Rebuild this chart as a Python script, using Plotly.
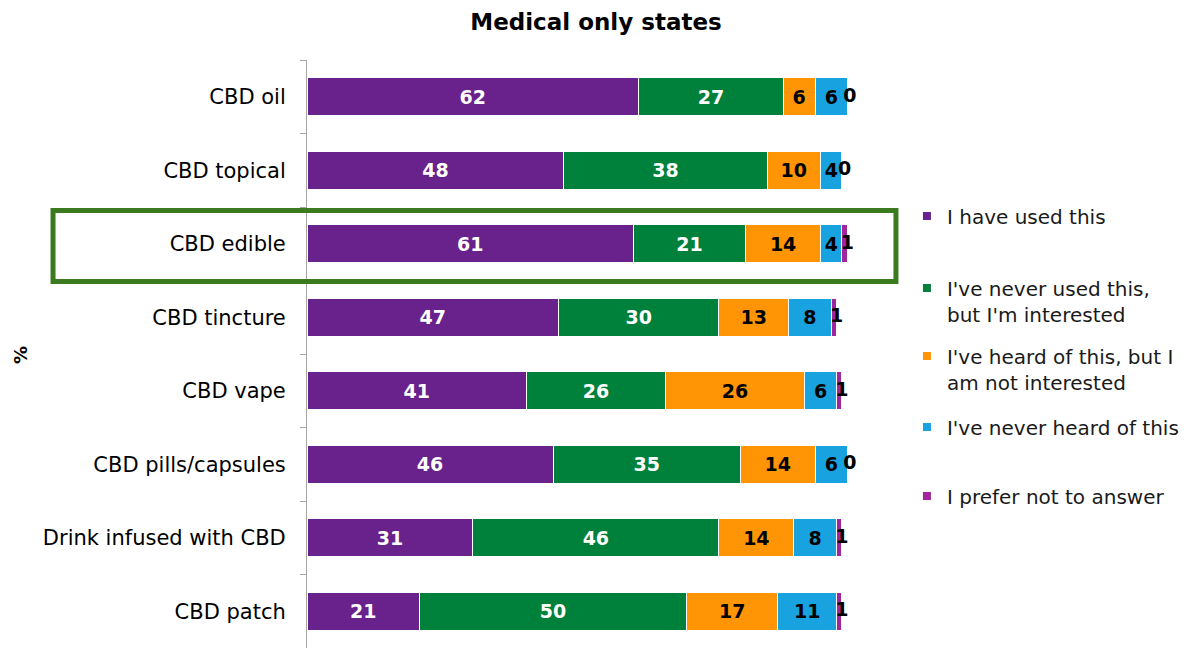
import plotly.graph_objects as go

categories = ["CBD oil", "CBD topical", "CBD edible", "CBD tincture", "CBD vape",
              "CBD pills/capsules", "Drink infused with CBD", "CBD patch"]
used = [62, 48, 61, 47, 41, 46, 31, 21]
never_used_interested = [27, 38, 21, 30, 26, 35, 46, 50]
heard_not_interested = [6, 10, 14, 13, 26, 14, 14, 17]
never_heard = [6, 4, 4, 8, 6, 6, 8, 11]
prefer_not = [0, 0, 1, 1, 1, 0, 1, 1]

series_names = ["I have used this", "I've never used this,<br>but I'm interested",
                "I've heard of this, but I<br>am not interested", "I've never heard of this",
                "I prefer not to answer"]
series_values = [used, never_used_interested, heard_not_interested, never_heard, prefer_not]
colors = ["#69218C", "#00813B", "#FF9505", "#18A2DF", "#A0279B"]
text_colors = ["white", "white", "black", "black", "black"]

FONT = "DejaVu Sans"

# page has an 8px body margin: work in screen pixels and convert
OFF = 8
W, H = 1189 - OFF, 648 - OFF
L = 307 - OFF
T = 60 - OFF
B = 0
X_MAX = 103
PX_PER_UNIT = 5.35  # 100 -> x=842
PW = X_MAX * PX_PER_UNIT
R = W - L - PW
PH = H - T - B
LABEL_NUDGE = 0.5  # small rightward nudge (axis units) for the last-segment labels


def px_x(p):
    return (p - OFF - L) / PW


def px_y(p):
    return (H - B - (p - OFF)) / PH


fig = go.Figure()

for i, (name, vals) in enumerate(zip(series_names, series_values)):
    fig.add_trace(go.Bar(
        y=categories, x=vals, orientation="h", name=name,
        marker=dict(color=colors[i], line=dict(color="white", width=1)),
        text=vals if i < 4 else None,
        texttemplate="%{x}" if i < 4 else None,
        textposition="inside" if i < 4 else "none",
        insidetextanchor="middle",
        textangle=0,
        constraintext="none",
        textfont=dict(family=FONT, size=19, color=text_colors[i], weight="bold"),
        showlegend=False,
        hoverinfo="skip",
    ))

# labels for the last (tiny) segment, placed at the segment centre
bases = [sum(s[k] for s in series_values[:4]) for k in range(len(categories))]
fig.add_trace(go.Scatter(
    y=categories, x=[b + v / 2 + LABEL_NUDGE for b, v in zip(bases, prefer_not)],
    mode="text", text=[str(v) for v in prefer_not], textposition="middle center",
    textfont=dict(family=FONT, size=19, color="black", weight="bold"),
    cliponaxis=False, showlegend=False, hoverinfo="skip",
))

# legend entries (one legend each, to reproduce the spacing)
legend_centres = [216, 301, 369, 427, 496]
for i, name in enumerate(series_names):
    key = "legend" if i == 0 else f"legend{i + 1}"
    fig.add_trace(go.Scatter(
        x=[None], y=[None], mode="markers", name=name,
        marker=dict(symbol="square", size=8, color=colors[i]),
        legend=key, showlegend=True, hoverinfo="skip",
    ))

legend_common = dict(
    xanchor="left", yanchor="middle", valign="top",
    font=dict(family=FONT, size=20, color="#1a1a1a"),
    bgcolor="rgba(0,0,0,0)", borderwidth=0, itemwidth=30,
    tracegroupgap=0,
)
legend_layout = {}
for i in range(5):
    key = "legend" if i == 0 else f"legend{i + 1}"
    legend_layout[key] = dict(legend_common, x=px_x(907), y=px_y(legend_centres[i]))

fig.update_layout(
    width=W, height=H,
    margin=dict(l=L, r=R, t=T, b=B, pad=0, autoexpand=False),
    paper_bgcolor="white", plot_bgcolor="white",
    barmode="stack", bargap=0.48,
    title=dict(text="<b>Medical only states</b>", x=(596 - OFF) / W, xanchor="center",
               y=1 - (22 - OFF) / H, yanchor="middle",
               font=dict(family=FONT, size=23, color="black")),
    xaxis=dict(range=[0, X_MAX], visible=False, fixedrange=True, automargin=False),
    yaxis=dict(autorange="reversed", showline=True, linecolor="#A6A6A6", linewidth=1,
               ticks="outside", ticklen=6, tickcolor="#A6A6A6", tickson="boundaries",
               ticklabelstandoff=16, automargin=False,
               tickfont=dict(family=FONT, size=21, color="black"),
               showgrid=False, zeroline=False, fixedrange=True),
    shapes=[dict(type="rect", xref="paper", yref="paper",
                 x0=px_x(53), x1=px_x(896), y0=px_y(281.5), y1=px_y(210.5),
                 line=dict(color="#3B7A1F", width=5), fillcolor="rgba(0,0,0,0)",
                 layer="above")],
    annotations=[dict(text="<b>%</b>", xref="paper", yref="paper",
                      x=px_x(20), y=px_y(355), textangle=-90, showarrow=False,
                      xanchor="center", yanchor="middle",
                      font=dict(family=FONT, size=18, color="black"))],
    **legend_layout,
)

fig.write_html("out.html")
